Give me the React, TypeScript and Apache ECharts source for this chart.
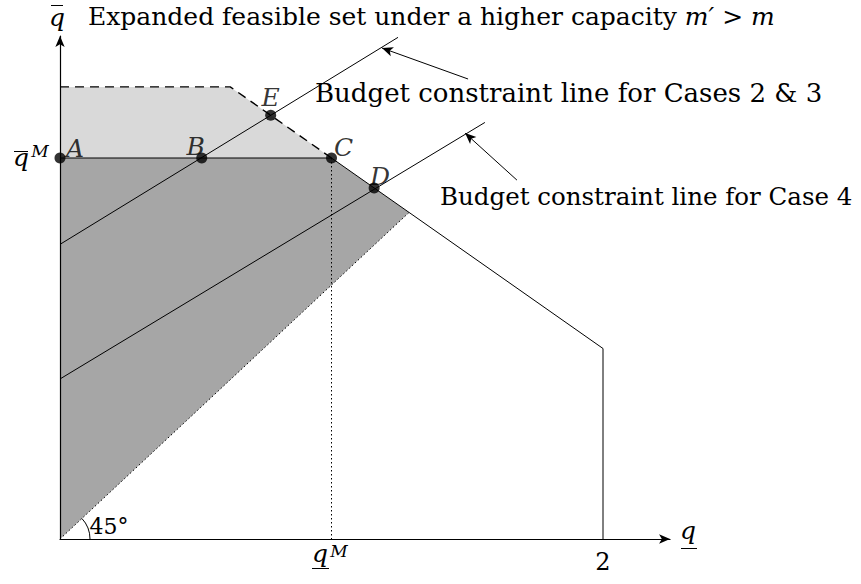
import React, { useEffect, useRef } from "react";
import * as echarts from "echarts";

// ---------- data (in axis units) ----------
const xMax = 2.247; // end of the q axis arrow
const yMax = 1.98; // end of the q-bar axis arrow

const lightRegion = [[0, 1.5], [0, 1.78], [0.627, 1.78], [1, 1.5]];
const darkRegion = [[0, 0], [0, 1.5], [1, 1.5], [1.2857, 1.2857]];
const capacityLine = [[0, 1.5], [1, 1.5], [2, 0.75], [2, 0]];
const expandedLine = [[0, 1.78], [0.627, 1.78], [1, 1.5]];
const qMDrop = [[1, 1.5], [1, 0]];
const diagonal = [[0, 0], [1.2857, 1.2857]];
const budget23 = [[0, 1.16], [1.245, 1.975]];
const budget4 = [[0, 0.63], [1.565, 1.64]];

const pointNames = ["A", "B", "C", "D", "E"];
const pointXs = [0, 0.522, 1, 1.157, 0.776];
const pointYs = [1.5, 1.5, 1.5, 1.382, 1.668];

const annotationArrows = [
  [[0.497, 1.996], [0.38, 1.79]],
  [[1.503, 1.811], [1.186, 1.933]],
  [[1.683, 1.413], [1.492, 1.598]],
];

// ---------- styles ----------
const SERIF = "DejaVu Serif";
const labelOffsets: Record<string, number[]> = {
  A: [15, -10],
  B: [-6, -12],
  C: [12, -11],
  D: [6, -11],
  E: [0, -18],
};

const polygonSeries = (pts: number[][], color: string, z: number) => ({
  type: "custom",
  coordinateSystem: "cartesian2d",
  data: pts,
  silent: true,
  z,
  renderItem: (params: any, api: any) => {
    if (params.dataIndex !== 0) return null;
    return {
      type: "polygon",
      shape: { points: pts.map((p) => api.coord(p)) },
      style: { fill: color, stroke: "none" },
    };
  },
});

const lineSeries = (pts: number[][], type: any, width: number, z = 3) => ({
  type: "line",
  data: pts,
  symbol: "none",
  silent: true,
  z,
  lineStyle: { color: "#000", width, type },
});

export default function App() {
  const ref = useRef<HTMLDivElement>(null);

  useEffect(() => {
    if (!ref.current) return;
    const chart = echarts.init(ref.current, null, { renderer: "svg" });

    const txt = (
      text: string,
      x: number,
      y: number,
      size: number,
      italic = false,
      align = "left"
    ) => ({
      type: "text",
      x,
      y,
      z: 10,
      style: {
        text,
        fill: "#000",
        font: `${italic ? "italic " : ""}${size}px "${SERIF}"`,
        align,
        verticalAlign: "middle",
      },
    });
    const ln = (x1: number, y1: number, x2: number, y2: number) => ({
      type: "line",
      z: 10,
      shape: { x1, y1, x2, y2 },
      style: { stroke: "#000", lineWidth: 1 },
    });

    const option: any = {
      animation: false,
      backgroundColor: "#fff",
      grid: {
        left: 60,
        top: 539 - yMax * 254,
        width: xMax * 271.5,
        height: yMax * 254,
        containLabel: false,
        outerBoundsMode: "none",
      },
      xAxis: {
        type: "value",
        min: 0,
        max: xMax,
        z: 5,
        axisLine: {
          show: true,
          symbol: ["none", "arrow"],
          symbolSize: [7, 11],
          lineStyle: { color: "#000", width: 1.2 },
        },
        axisTick: { show: false },
        axisLabel: { show: false },
        splitLine: { show: false },
      },
      yAxis: {
        type: "value",
        min: 0,
        max: yMax,
        z: 5,
        axisLine: {
          show: true,
          symbol: ["none", "arrow"],
          symbolSize: [7, 11],
          lineStyle: { color: "#000", width: 1.2 },
        },
        axisTick: { show: false },
        axisLabel: { show: false },
        splitLine: { show: false },
      },
      series: [
        polygonSeries(lightRegion, "#d9d9d9", 1),
        polygonSeries(darkRegion, "#a6a6a6", 1),
        lineSeries(capacityLine, "solid", 1),
        lineSeries(expandedLine, [9, 6], 1.4),
        lineSeries(qMDrop, [1.5, 2.5], 1),
        lineSeries(diagonal, [1.5, 2.5], 1),
        lineSeries(budget23, "solid", 1),
        lineSeries(budget4, "solid", 1),
        {
          type: "custom",
          coordinateSystem: "cartesian2d",
          data: [[0, 0], [1, 1]],
          silent: true,
          z: 4,
          renderItem: (params: any, api: any) => {
            if (params.dataIndex !== 0) return null;
            const o = api.coord([0, 0]);
            const p = api.coord([1, 1]);
            const ang = Math.atan2(p[1] - o[1], p[0] - o[0]);
            return {
              type: "arc",
              shape: { cx: o[0], cy: o[1], r: 30, startAngle: ang, endAngle: 0, clockwise: true },
              style: { stroke: "#000", fill: "none", lineWidth: 1 },
            };
          },
        },
        {
          type: "line",
          data: [],
          silent: true,
          z: 4,
          markLine: {
            silent: true,
            symbol: ["none", "arrow"],
            symbolSize: [7, 11],
            label: { show: false },
            lineStyle: { color: "#000", width: 1, type: "solid" },
            emphasis: { disabled: true },
            data: annotationArrows.map(([a, b]) => [{ coord: a }, { coord: b }]),
          },
        },
        {
          type: "scatter",
          z: 6,
          silent: true,
          symbolSize: 11,
          itemStyle: { color: "#000" },
          data: pointNames.map((n, i) => ({
            name: n,
            value: [pointXs[i], pointYs[i]],
            label: { offset: labelOffsets[n] },
          })),
          label: {
            show: true,
            position: "inside",
            formatter: "{b}",
            color: "#000",
            fontFamily: SERIF,
            fontStyle: "italic",
            fontSize: 25,
            textBorderWidth: 0,
          },
        },
      ],
      graphic: [
        {
          type: "text",
          x: 88,
          y: 16,
          z: 10,
          style: {
            text: "{r|Expanded feasible set under a higher capacity }{i|m′}{r| > }{i|m}",
            fill: "#000",
            verticalAlign: "middle",
            rich: {
              r: { fontFamily: SERIF, fontSize: 25, fill: "#000" },
              i: { fontFamily: SERIF, fontSize: 25, fontStyle: "italic", fill: "#000" },
            },
          },
        },
        txt("Budget constraint line for Cases 2 & 3", 315, 93, 26),
        txt("Budget constraint line for Case 4", 440, 196, 24.5),
        // q-bar axis title
        txt("q", 57, 17, 25, true, "center"),
        ln(51, 5.5, 63, 5.5),
        // q-bar^M
        txt("q", 21, 157, 25, true, "center"),
        ln(14, 151.5, 28, 151.5),
        txt("M", 40, 151, 17, true, "center"),
        // q^M below axis
        txt("q", 320, 553, 25, true, "center"),
        ln(312, 568.5, 329, 568.5),
        txt("M", 339, 551, 17, true, "center"),
        // 2
        txt("2", 603, 562, 24, false, "center"),
        // q axis title
        txt("q", 688, 530, 25, true, "center"),
        ln(681, 548.5, 697, 548.5),
        // 45°
        txt("45°", 109, 526, 22, false, "center"),
      ],
    };

    chart.setOption(option);
    return () => chart.dispose();
  }, []);

  return (
    <div
      ref={ref}
      style={{ position: "fixed", left: 0, top: 0, width: 861, height: 584, background: "#fff" }}
    />
  );
}
